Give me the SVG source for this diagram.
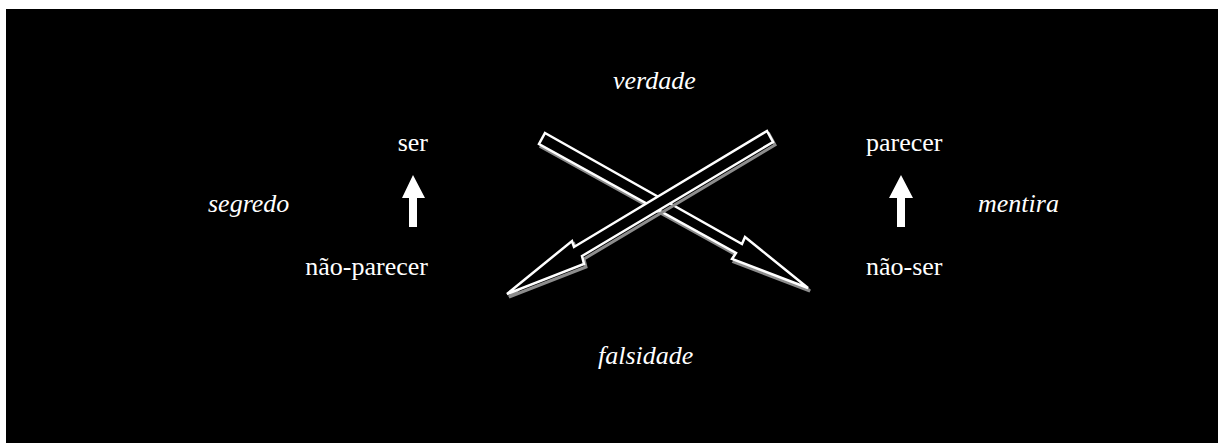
<svg xmlns="http://www.w3.org/2000/svg" width="1218" height="443" viewBox="0 0 1218 443">
<defs>
<style>
.t{font-family:"Liberation Serif","Times New Roman",serif;font-size:26px;fill:#ffffff}
.i{font-style:italic}
.out{fill:#000;stroke:#fff;stroke-width:2.5;stroke-linejoin:miter}
.sh{fill:none;stroke:#8c8c8c;stroke-width:3}
.up{fill:#fff}
</style>
<filter id="blur" x="-10%" y="-10%" width="120%" height="120%"><feGaussianBlur stdDeviation="0.7"/></filter>
</defs>
<rect x="0" y="0" width="1218" height="443" fill="#fff"/>
<rect x="6" y="9" width="1212" height="434" fill="#000"/>
<g id="connectors">
<g id="arrow-verdade-naoser">
<polygon class="sh" filter="url(#blur)" transform="translate(2,3)" points="545,133 742,244 745,237 808,288 732,259 736,253 539,144"/>
<polygon class="out" points="545,133 742,244 745,237 808,288 732,259 736,253 539,144"/>
</g>
<g id="arrow-verdade-naoparecer">
<polygon class="sh" filter="url(#blur)" transform="translate(2,3)" points="767,131 773,142 582,256 584,264 507,294 572,241 574,247"/>
<polygon class="out" points="767,131 773,142 582,256 584,264 507,294 572,241 574,247"/>
</g>
<polygon id="up-left" class="up" points="413,175 425,198 417,198 417,227 409,227 409,198 402,198"/>
<polygon id="up-right" class="up" points="901,175 913,198 905,198 905,227 897,227 897,198 889,198"/>
</g>
<g id="verdade"><text class="t i" x="613" y="89">verdade</text></g>
<g id="falsidade"><text class="t i" x="598" y="364">falsidade</text></g>
<g id="segredo"><text class="t i" x="208" y="212">segredo</text></g>
<g id="mentira"><text class="t i" x="978" y="212">mentira</text></g>
<g id="ser"><text class="t" x="428" y="151" text-anchor="end">ser</text></g>
<g id="nao-parecer"><text class="t" x="428" y="275" text-anchor="end">não-parecer</text></g>
<g id="parecer"><text class="t" x="866" y="151">parecer</text></g>
<g id="nao-ser"><text class="t" x="866" y="275">não-ser</text></g>
</svg>
